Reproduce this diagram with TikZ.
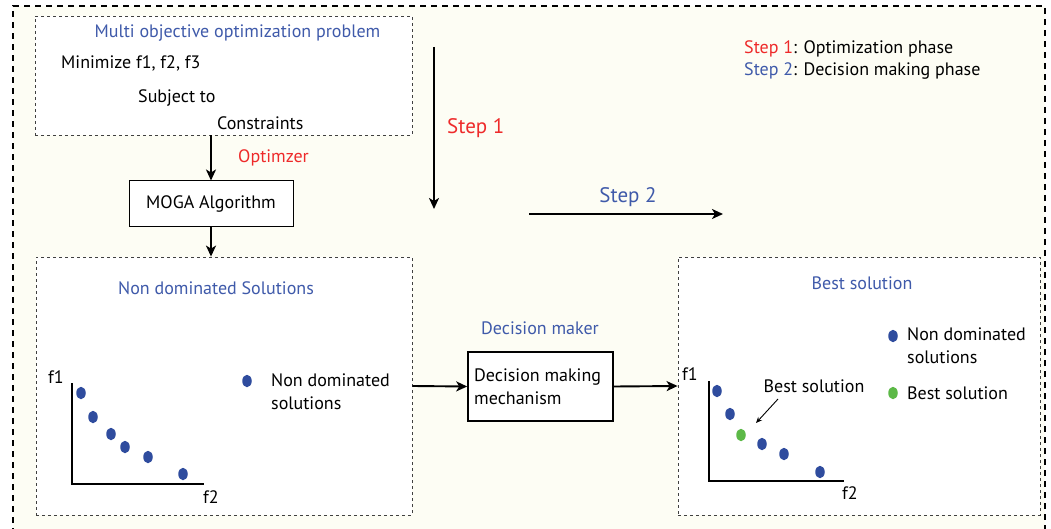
\documentclass[tikz,border=0pt]{standalone}
\usepackage{fontspec}
\setmainfont{PT Sans}
\usetikzlibrary{arrows.meta,shapes.geometric}
\definecolor{cream}{HTML}{FDFDF4}
\definecolor{tblue}{HTML}{3F5AAA}
\definecolor{tred}{HTML}{EE2A2A}
\definecolor{dblue}{HTML}{2F4C9E}
\definecolor{dgreen}{HTML}{5CB947}
\tikzset{
  outerbox/.style={line width=1.8pt, dash pattern=on 6pt off 5pt, black},
  innerbox/.style={draw=black!75, line width=0.8pt, dash pattern=on 3pt off 3pt, fill=white, inner sep=0pt},
  solidbox/.style={draw=black, fill=white, inner sep=0pt},
  txt/.style={inner sep=0pt, font=\fontsize{18}{23}\selectfont},
  btxt/.style={txt, text=tblue},
  rtxt/.style={txt, text=tred},
  big/.style={inner sep=0pt, font=\fontsize{21}{24}\selectfont},
  arr/.style={line width=1.9pt, -{Stealth[length=11pt,width=10pt,inset=3pt]}},
  axis/.style={line width=1.6pt},
  bdot/.style={ellipse, fill=dblue, minimum width=9.5pt, minimum height=12.5pt, inner sep=0pt},
  gdot/.style={ellipse, fill=dgreen, minimum width=9.5pt, minimum height=12.5pt, inner sep=0pt},
}
\begin{document}
\begin{tikzpicture}[x=1pt,y=-1pt]
\useasboundingbox (0,0) rectangle (1051,529);
\fill[white] (0,0) rectangle (1051,529);
\fill[cream] (13,6) rectangle (1045,540);
\draw[outerbox] (13,545) -- (13,6) -- (1045,6) -- (1045,545);

% top problem box
\node[innerbox, minimum width=377pt, minimum height=119pt] (prob) at (223.5,75.5) {};
\node[btxt] (probt) at (237.5,33) {Multi objective optimization problem};
\node[txt, anchor=west] (mini) at (61,63) {Minimize f1, f2, f3};
\node[txt, anchor=west] (subj) at (138,98) {Subject to};
\node[txt, anchor=west] (cons) at (217,123) {Constraints};

% MOGA
\node[solidbox, line width=1pt, minimum width=164pt, minimum height=46pt, txt] (moga) at (211,204) {MOGA Algorithm};
\node[rtxt, anchor=west] (optz) at (238,158) {Optimzer};

% Non dominated box
\node[innerbox, minimum width=376pt, minimum height=258pt] (nd) at (224,386) {};
\node[btxt] (ndt) at (216,288) {Non dominated Solutions};
\draw[axis] (72,383) -- (72,484) -- (204,484);
\node[txt] (f1a) at (56,377) {f1};
\node[txt] (f2a) at (211,497) {f2};
\node[bdot] (a1) at (81,393) {};
\node[bdot] (a2) at (93,417) {};
\node[bdot] (a3) at (111,434) {};
\node[bdot] (a4) at (125,447) {};
\node[bdot] (a5) at (148,457) {};
\node[bdot] (a6) at (183,474) {};
\node[bdot] (la) at (247,381) {};
\node[txt, anchor=west, align=left] (lat) at (271,391.5) {Non dominated\\solutions};

% decision
\node[btxt] (dmt) at (540,328) {Decision maker};
\node[solidbox, line width=1.6pt, minimum width=145pt, minimum height=69pt] (dec) at (540.5,386.5) {};
\node[txt, anchor=west, align=left] (dect) at (474,386.5) {Decision making\\mechanism};

% best solution box
\node[innerbox, minimum width=362pt, minimum height=258pt] (best) at (859,386) {};
\node[btxt] (bestt) at (862,283) {Best solution};
\draw[axis] (709,381) -- (709,481) -- (844,481);
\node[txt] (f1b) at (690,374) {f1};
\node[txt] (f2b) at (850,493) {f2};
\node[bdot] (b1) at (717,391) {};
\node[bdot] (b2) at (730,414) {};
\node[gdot] (b3) at (741,435) {};
\node[bdot] (b4) at (762,444) {};
\node[bdot] (b5) at (784,454) {};
\node[bdot] (b6) at (820,472) {};
\node[txt] (bsa) at (814,386) {Best solution};
\coordinate (bsa1) at (778,399);
\coordinate (bsa2) at (756,423);
\draw[line width=0.9pt, -{Stealth[length=6pt,width=5pt]}] (bsa1) -- (bsa2);
\node[bdot] (lb1) at (893,336) {};
\node[txt, anchor=west, align=left] (lb1t) at (907,346) {Non dominated\\solutions};
\node[gdot] (lb2) at (893,393) {};
\node[txt, anchor=west] (lb2t) at (907,393) {Best solution};

% steps
\coordinate (s1a) at (434,47);
\coordinate (s1b) at (434,209);
\draw[arr] (s1a) -- (s1b);
\node[big, text=tred, anchor=west] (s1t) at (447,128) {Step 1};
\coordinate (s2a) at (529,214);
\coordinate (s2b) at (723,214);
\draw[arr] (s2a) -- (s2b);
\node[big, text=tblue] (s2t) at (628,197) {Step 2};
\node[txt, anchor=west] (leg1) at (744,49) {\textcolor{tred}{Step 1}: Optimization phase};
\node[txt, anchor=west] (leg2) at (744,71) {\textcolor{tblue}{Step 2}: Decision making phase};

% connectors
\draw[arr] (moga.north |- prob.south) -- (moga.north);
\draw[arr] (moga.south) -- (moga.south |- nd.north);
\draw[arr] (nd.east) -- (dec.west);
\draw[arr] (dec.east) -- (best.west);
\end{tikzpicture}
\end{document}
